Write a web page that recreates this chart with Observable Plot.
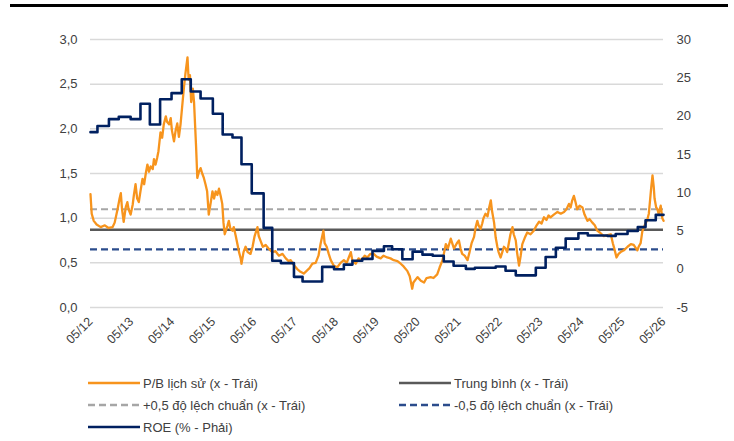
<!DOCTYPE html>
<html>
<head>
<meta charset="utf-8">
<script src="https://cdn.jsdelivr.net/npm/d3@7"></script>
<script src="https://cdn.jsdelivr.net/npm/@observablehq/plot@0.6"></script>
<style>
  html, body { margin: 0; padding: 0; background: #fff; }
  body { font-family: "Liberation Sans", Arial, sans-serif; color: #404040; }
  #wrap { position: relative; width: 734px; height: 441px; overflow: hidden; }
  #topbar { position: absolute; left: 10px; top: 4px; width: 718px; height: 3px; background: #000; z-index: 2; }
  #chart { position: absolute; left: 0; top: 0; }
  #legend { position: absolute; left: 88px; top: 372px; display: grid; grid-template-columns: 311px auto; grid-auto-rows: 22px; font-size: 13px; color: #404040; }
  .item { display: flex; align-items: center; white-space: nowrap; }
  .item svg { margin-right: 3px; }
</style>
</head>
<body>
<div id="wrap">
  <div id="topbar"></div>
  <div id="chart"></div>
  <div id="legend"></div>
</div>
<script>
// ---- Data (decimal year, value) ----
const pbSeries = [
[2012.33,1.27],[2012.36,1.05],[2012.41,0.97],[2012.48,0.93],[2012.58,0.90],[2012.68,0.92],[2012.77,0.89],[2012.87,0.90],
[2012.92,0.95],[2012.99,1.10],[2013.04,1.22],[2013.07,1.28],[2013.10,1.10],[2013.14,0.96],[2013.19,1.12],[2013.23,1.18],
[2013.26,1.10],[2013.31,1.04],[2013.36,1.15],[2013.39,1.26],[2013.43,1.38],[2013.47,1.22],[2013.51,1.18],[2013.55,1.30],
[2013.60,1.44],[2013.64,1.38],[2013.68,1.50],[2013.72,1.60],[2013.76,1.52],[2013.80,1.58],[2013.85,1.55],[2013.88,1.66],
[2013.92,1.60],[2013.96,1.68],[2013.99,1.75],[2014.04,1.96],[2014.08,1.90],[2014.12,2.05],[2014.17,2.14],[2014.20,2.08],
[2014.25,2.05],[2014.29,2.12],[2014.32,1.98],[2014.37,1.86],[2014.41,1.98],[2014.45,2.06],[2014.49,1.91],[2014.53,2.05],
[2014.57,2.25],[2014.61,2.45],[2014.65,2.62],[2014.70,2.80],[2014.72,2.62],[2014.73,2.55],[2014.76,2.60],[2014.79,2.30],
[2014.83,2.45],[2014.86,2.30],[2014.89,2.00],[2014.91,1.80],[2014.94,1.45],[2014.98,1.52],[2015.02,1.56],[2015.06,1.50],
[2015.10,1.45],[2015.14,1.38],[2015.18,1.30],[2015.22,1.04],[2015.27,1.18],[2015.31,1.30],[2015.35,1.22],[2015.39,1.30],
[2015.43,1.26],[2015.47,1.33],[2015.51,1.25],[2015.55,1.16],[2015.58,0.95],[2015.61,0.82],[2015.64,0.86],[2015.68,0.92],
[2015.71,0.97],[2015.75,0.88],[2015.80,0.86],[2015.83,0.90],[2015.88,0.80],[2015.92,0.71],[2015.96,0.62],[2016.00,0.55],
[2016.02,0.49],[2016.07,0.62],[2016.12,0.68],[2016.17,0.62],[2016.24,0.60],[2016.29,0.68],[2016.34,0.80],[2016.41,0.90],
[2016.44,0.80],[2016.49,0.74],[2016.54,0.68],[2016.61,0.70],[2016.68,0.66],[2016.77,0.62],[2016.85,0.63],[2016.93,0.58],
[2017.02,0.60],[2017.10,0.55],[2017.17,0.52],[2017.22,0.53],[2017.29,0.48],[2017.38,0.43],[2017.46,0.40],[2017.54,0.38],
[2017.61,0.41],[2017.68,0.44],[2017.75,0.49],[2017.83,0.50],[2017.90,0.58],[2017.95,0.71],[2018.02,0.86],[2018.05,0.72],
[2018.10,0.68],[2018.15,0.60],[2018.20,0.53],[2018.27,0.47],[2018.36,0.45],[2018.44,0.50],[2018.52,0.53],[2018.59,0.50],
[2018.64,0.56],[2018.69,0.62],[2018.73,0.52],[2018.81,0.49],[2018.88,0.55],[2018.95,0.53],[2019.03,0.58],[2019.09,0.56],
[2019.17,0.60],[2019.25,0.60],[2019.32,0.57],[2019.42,0.55],[2019.49,0.58],[2019.58,0.56],[2019.66,0.55],[2019.74,0.53],
[2019.83,0.52],[2019.91,0.49],[2019.98,0.46],[2020.07,0.41],[2020.13,0.35],[2020.19,0.21],[2020.22,0.28],[2020.32,0.34],
[2020.40,0.30],[2020.48,0.28],[2020.54,0.33],[2020.64,0.34],[2020.71,0.33],[2020.80,0.37],[2020.86,0.45],[2020.93,0.53],
[2020.97,0.62],[2021.01,0.71],[2021.06,0.66],[2021.13,0.77],[2021.18,0.70],[2021.21,0.66],[2021.28,0.72],[2021.33,0.75],
[2021.37,0.66],[2021.41,0.60],[2021.47,0.58],[2021.54,0.53],[2021.59,0.62],[2021.64,0.72],[2021.70,0.79],[2021.74,0.90],
[2021.78,0.97],[2021.81,0.92],[2021.86,0.88],[2021.90,0.94],[2021.93,1.00],[2021.98,1.05],[2022.03,1.02],[2022.07,1.12],
[2022.11,1.20],[2022.14,1.08],[2022.19,0.95],[2022.23,0.78],[2022.27,0.68],[2022.30,0.62],[2022.35,0.56],[2022.39,0.62],
[2022.43,0.68],[2022.47,0.66],[2022.51,0.62],[2022.55,0.72],[2022.59,0.82],[2022.64,0.90],[2022.67,0.82],[2022.72,0.75],
[2022.75,0.62],[2022.80,0.47],[2022.84,0.58],[2022.88,0.71],[2022.94,0.78],[2023.00,0.84],[2023.08,0.82],[2023.16,0.86],
[2023.23,0.92],[2023.29,0.96],[2023.35,0.94],[2023.41,1.01],[2023.47,0.98],[2023.52,1.03],[2023.57,1.01],[2023.65,1.04],
[2023.74,1.07],[2023.82,1.05],[2023.90,1.07],[2023.96,1.10],[2024.02,1.16],[2024.06,1.12],[2024.10,1.20],[2024.14,1.25],
[2024.18,1.18],[2024.22,1.10],[2024.28,1.14],[2024.35,1.12],[2024.40,1.04],[2024.47,0.97],[2024.52,0.99],[2024.59,0.95],
[2024.65,0.92],[2024.71,0.86],[2024.77,0.84],[2024.82,0.82],[2024.87,0.80],[2024.96,0.81],[2025.04,0.82],[2025.09,0.72],
[2025.12,0.67],[2025.18,0.56],[2025.23,0.60],[2025.28,0.62],[2025.36,0.64],[2025.45,0.68],[2025.53,0.71],[2025.60,0.70],
[2025.69,0.64],[2025.72,0.68],[2025.77,0.72],[2025.81,0.85],[2025.85,0.90],[2025.93,0.98],[2025.97,1.05],[2026.00,1.20],
[2026.03,1.35],[2026.06,1.48],[2026.09,1.35],[2026.11,1.22],[2026.15,1.12],[2026.18,1.10],[2026.21,1.05],[2026.26,1.14],
[2026.30,1.00],[2026.33,0.97]
];

const roeSeries = [
[2012.33,17.9],[2012.50,18.7],[2012.78,19.6],[2013.02,19.9],[2013.31,19.6],[2013.55,21.6],[2013.78,18.9],[2014.03,22.2],
[2014.31,23.0],[2014.56,24.8],[2014.78,23.2],[2015.02,22.3],[2015.32,20.3],[2015.56,17.6],[2015.80,17.2],[2016.02,13.7],
[2016.27,9.9],[2016.56,5.4],[2016.77,1.1],[2016.98,0.8],[2017.30,-1.0],[2017.51,-1.6],[2017.99,0.3],[2018.28,0.0],
[2018.52,0.6],[2018.73,1.1],[2018.97,1.35],[2019.22,2.4],[2019.50,3.0],[2019.70,2.6],[2019.95,1.3],[2020.20,2.3],
[2020.44,1.9],[2020.69,1.75],[2020.96,1.0],[2021.20,0.45],[2021.50,0.05],[2021.72,0.2],[2022.23,0.35],[2022.47,-0.2],
[2022.72,-0.8],[2023.21,0.2],[2023.45,1.6],[2023.70,2.8],[2023.94,4.0],[2024.25,4.7],[2024.48,4.4],[2024.96,4.35],
[2025.16,4.6],[2025.45,5.0],[2025.70,5.5],[2025.89,6.4],[2026.14,7.1],[2026.33,7.1]
];

const meanPB = 0.87;
const plusHalfSd = 1.10;
const minusHalfSd = 0.65;

const leftTicks = [0, 0.5, 1, 1.5, 2, 2.5, 3];
const rightTicks = [-5, 0, 5, 10, 15, 20, 25, 30];
const xTickLabels = ["05/12","05/13","05/14","05/15","05/16","05/17","05/18","05/19","05/20","05/21","05/22","05/23","05/24","05/25","05/26"];

const legendLabels = ["P/B lịch sử (x - Trái)", "Trung bình (x - Trái)", "+0,5 độ lệch chuẩn (x - Trái)", "-0,5 độ lệch chuẩn (x - Trái)", "ROE (% - Phải)"];

const colors = { pb: "#F7941D", mean: "#595959", plus: "#A6A6A6", minus: "#2B4C8C", roe: "#002060", grid: "#D9D9D9" };

// ---- Helpers ----
function yearToDate(y) {
  const yr = Math.floor(y);
  const s = Date.UTC(yr, 0, 1), e = Date.UTC(yr + 1, 0, 1);
  return new Date(s + (y - yr) * (e - s));
}
const roeToLeft = d3.scaleLinear([-5, 30], [0, 3]);
const xTickDates = xTickLabels.map(l => { const [m, y] = l.split("/"); return new Date(Date.UTC(2000 + +y, +m - 1, 1)); });

const pb = pbSeries.map(([y, v]) => ({ date: yearToDate(y), value: v }));
const roe = roeSeries.map(([y, v]) => ({ date: yearToDate(y), value: roeToLeft(v) }));

const font = "'Liberation Sans', Arial, sans-serif";

const chart = Plot.plot({
  width: 734,
  height: 366,
  marginTop: 39,
  marginBottom: 59,
  marginLeft: 90,
  marginRight: 71,
  style: { fontFamily: font, fontSize: "13px", color: "#404040", background: "transparent" },
  x: { type: "utc", domain: [xTickDates[0], xTickDates[xTickDates.length - 1]], axis: null },
  y: { domain: [0, 3], axis: null },
  marks: [
    Plot.ruleY(leftTicks, { stroke: colors.grid, strokeWidth: 1.5 }),
    Plot.ruleY([meanPB], { stroke: colors.mean, strokeWidth: 2.4 }),
    Plot.ruleY([plusHalfSd], { stroke: colors.plus, strokeWidth: 2.2, strokeDasharray: "7,4" }),
    Plot.ruleY([minusHalfSd], { stroke: colors.minus, strokeWidth: 2.2, strokeDasharray: "7,4" }),
    Plot.line(pb, { x: "date", y: "value", stroke: colors.pb, strokeWidth: 2.3, strokeLinejoin: "round" }),
    Plot.line(roe, { x: "date", y: "value", curve: "step-after", stroke: colors.roe, strokeWidth: 2.6 }),
    Plot.axisY(leftTicks, { anchor: "left", label: null, tickSize: 0, tickPadding: 13, fontSize: 13, fill: "#404040",
      tickFormat: d => d.toFixed(1).replace(".", ",") }),
    Plot.axisY(rightTicks.map(r => roeToLeft(r)), { anchor: "right", label: null, tickSize: 0, tickPadding: 13, fontSize: 13, fill: "#404040",
      tickFormat: d => String(Math.round(roeToLeft.invert(d))) }),
    Plot.axisX(xTickDates, { anchor: "bottom", label: null, tickSize: 0, tickPadding: 12, tickRotate: -45, fontSize: 12.5, fill: "#404040",
      tickFormat: (d, i) => xTickLabels[i] })
  ]
});
document.getElementById("chart").appendChild(chart);

// ---- Legend ----
const legendStyles = [
  { stroke: colors.pb, dash: null },
  { stroke: colors.mean, dash: null },
  { stroke: colors.plus, dash: "7,4" },
  { stroke: colors.minus, dash: "7,4" },
  { stroke: colors.roe, dash: null }
];
const legend = document.getElementById("legend");
legendLabels.forEach((label, i) => {
  const st = legendStyles[i];
  const item = document.createElement("div");
  item.className = "item";
  item.innerHTML = `<svg width="52" height="10"><line x1="0" y1="5" x2="52" y2="5" stroke="${st.stroke}" stroke-width="2.6" ${st.dash ? `stroke-dasharray="${st.dash}"` : ""}/></svg><span>${label}</span>`;
  legend.appendChild(item);
});
</script>
</body>
</html>
